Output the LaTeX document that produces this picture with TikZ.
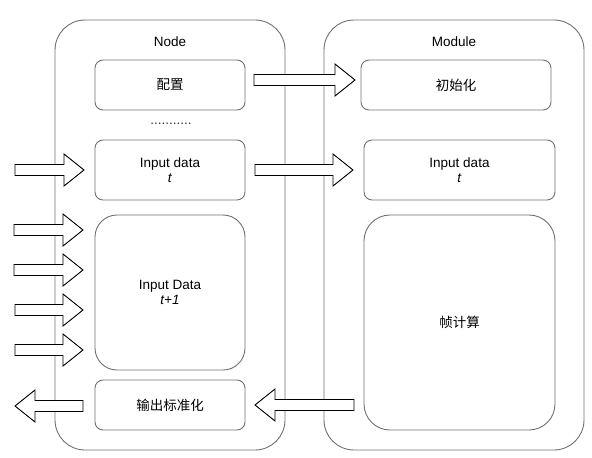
\documentclass[tikz,border=0pt]{standalone}
\usepackage{fontspec}
\setmainfont{Liberation Sans}
\newfontfamily\cjk{Noto Sans CJK SC}
\definecolor{edge}{RGB}{110,112,120}
\newcommand\harrow[3]{% tail x, tip x, y
  \pgfmathsetmacro\hb{#2-20*sign(#2-#1)}
  \draw[barrow] (#1,#3-5.5) -- (\hb,#3-5.5) -- (\hb,#3-16) -- (#2,#3) -- (\hb,#3+16) -- (\hb,#3+5.5) -- (#1,#3+5.5) -- cycle;}
\begin{document}
\begin{tikzpicture}[x=1pt,y=-1pt,
  font=\fontsize{13.5}{16}\selectfont,
  container/.style={draw=edge,line width=0.9pt,rounded corners=30pt},
  box/.style={draw=edge,line width=0.9pt,rounded corners=8pt,align=center,inner sep=0pt},
  bigbox/.style={box,rounded corners=22pt},
  barrow/.style={draw=black,fill=white,line width=0.9pt,line join=miter}]
\useasboundingbox (0,0) rectangle (592,458);
\draw[container] (55,20) rectangle (285,450);
\draw[container] (324,20) rectangle (584,450);
\node (nodet) at (170,42) {Node};
\node (modt) at (454,42) {Module};
% Node column
\node[box,minimum width=150pt,minimum height=50pt] (cfg) at (170,85) {\cjk 配置};
\node[text=black!80] (dots) at (171,124) {...........};
\node[box,minimum width=150pt,minimum height=60pt] (int) at (170,170) {Input data\\[-1pt]\textit{t}};
\node[bigbox,minimum width=150pt,minimum height=155pt] (int1) at (170,292.5) {Input Data\\[-1pt]\textit{t+1}};
\node[box,minimum width=150pt,minimum height=50pt] (out) at (170,405) {\cjk 输出标准化};
% Module column
\node[box,minimum width=190pt,minimum height=50pt] (init) at (456,85) {\cjk 初始化};
\node[box,minimum width=191pt,minimum height=60pt] (mint) at (459.5,170) {Input data\\[-1pt]\textit{t}};
\node[bigbox,rounded corners=26pt,minimum width=191pt,minimum height=215pt] (frame) at (459.5,322.5) {\cjk 帧计算};
% block arrows
\harrow{15}{84}{170}
\harrow{14}{83}{230}
\harrow{14}{83}{270}
\harrow{15}{83}{310}
\harrow{15}{83}{350}
\harrow{254}{355}{80}
\harrow{255}{353}{170}
\harrow{83}{15}{406}
\harrow{354}{255}{405}
\end{tikzpicture}
\end{document}
